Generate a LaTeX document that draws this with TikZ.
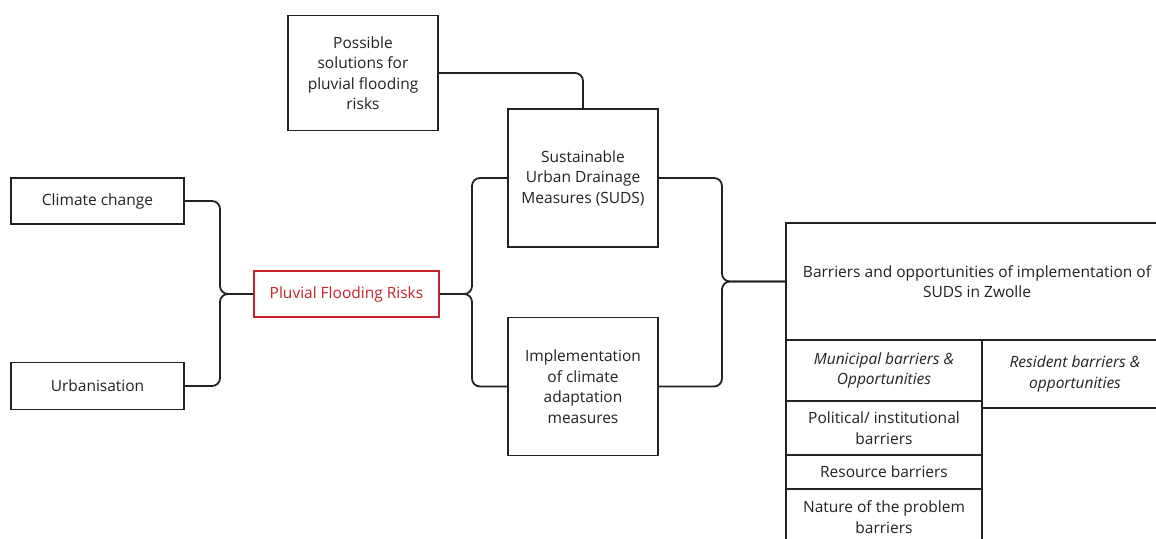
\documentclass[tikz,border=0pt]{standalone}
\usepackage{fontspec}
\setmainfont{Open Sans}
\definecolor{ink}{HTML}{222222}
\definecolor{redc}{HTML}{C8232C}
\begin{document}
\begin{tikzpicture}[x=1pt,y=-1pt,
  box/.style={draw=ink,line width=1.8pt,inner sep=0pt,align=center,text=ink,
    font=\fontsize{15.5}{20.5}\selectfont},
  redbox/.style={box,draw=redc,text=redc},
  conn/.style={draw=ink,line width=1.8pt,rounded corners=8pt}]
\clip (0,0) rectangle (1156,538);
\fill[white] (0,0) rectangle (1156,538);
% left boxes
\node[box,minimum width=173pt,minimum height=46pt] (cc) at (97.5,201) {Climate change};
\node[box,minimum width=173pt,minimum height=47pt] (ur) at (97.5,386) {Urbanisation};
\node[redbox,minimum width=185pt,minimum height=46pt] (pf) at (346.5,294) {Pluvial Flooding Risks};
\node[box,minimum width=150pt,minimum height=115pt] (ps) at (363,73) {Possible\\solutions for\\pluvial flooding\\risks};
\node[box,minimum width=150pt,minimum height=138pt] (su) at (583,178) {Sustainable\\Urban Drainage\\Measures (SUDS)};
\node[box,minimum width=150pt,minimum height=138pt] (im) at (583,386.5) {Implementation\\of climate\\adaptation\\measures};
% right table
\node[box,minimum width=382pt,minimum height=117pt] (bo) at (977,281.5) {Barriers and opportunities of implementation of\\SUDS in Zwolle};
\node[box,minimum width=196pt,minimum height=61pt] (mu) at (884,370.5) {\itshape Municipal barriers \&\\\itshape Opportunities};
\node[box,minimum width=186pt,minimum height=68pt] (re) at (1075,374) {\itshape Resident barriers \&\\\itshape opportunities};
\node[box,minimum width=196pt,minimum height=54pt] (po) at (884,428) {Political/ institutional\\barriers};
\node[box,minimum width=196pt,minimum height=34pt] (rs) at (884,472) {Resource barriers};
\node[box,minimum width=196pt,minimum height=56pt] (na) at (884,517) {Nature of the problem\\barriers};
% junction coordinates
\coordinate (j1) at (pf.west -| 220,0);
\coordinate (j2) at (pf.east -| 472,0);
\coordinate (j3) at (bo.west -| 722,0);
% connectors
\draw[conn] (cc.east) -| (j1) -- (pf.west);
\draw[conn] (ur.east) -| (j1) -- (pf.west);
\draw[conn] (pf.east) -- (j2) |- (su.west);
\draw[conn] (pf.east) -- (j2) |- (im.west);
\draw[conn] (ps.east) -| (su.north);
\draw[conn] (su.east) -| (j3) -- (bo.west);
\draw[conn] (im.east) -| (j3) -- (bo.west);
\end{tikzpicture}
\end{document}
